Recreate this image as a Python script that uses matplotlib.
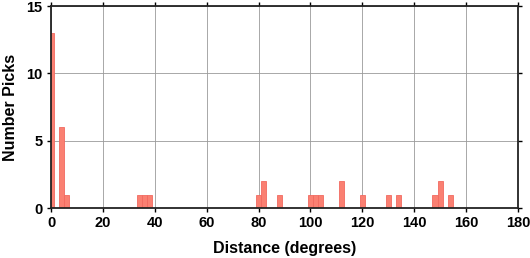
import matplotlib
matplotlib.use("Agg")
import matplotlib.pyplot as plt

# histogram bins (2 degree wide, centred on even degrees)
centers = [0, 4, 6, 34, 36, 38, 80, 82, 88, 100, 102, 104, 112, 120, 130,
           134, 148, 150, 154]
counts = [13, 6, 1, 1, 1, 1, 1, 2, 1, 1, 1, 1, 2, 1, 1, 1, 1, 2, 1]
bin_width = 2

xticks = list(range(0, 181, 20))
yticks = [0, 5, 10, 15]

plt.rcParams["font.family"] = ["Liberation Sans", "DejaVu Sans"]
plt.rcParams["font.weight"] = "bold"

fig = plt.figure(figsize=(5.30, 2.58), dpi=100)
ax = fig.add_axes([51 / 530, 50 / 258, 467 / 530, 202 / 258])

ax.bar(centers, counts, width=bin_width, align="center",
       color="#fa8072", edgecolor="#f26a60", linewidth=0.6, zorder=2)

ax.set_xlim(0, 180)
ax.set_ylim(0, 15)
ax.set_xticks(xticks)
ax.set_yticks(yticks)
ax.grid(True, color="#9a9a9a", linewidth=0.6, zorder=0)
ax.set_axisbelow(True)

for s in ax.spines.values():
    s.set_linewidth(1.3)
    s.set_color("#222222")

ax.tick_params(direction="out", length=3, width=1, top=True, right=True,
               labelsize=10.5, pad=3)
for lbl in ax.get_xticklabels() + ax.get_yticklabels():
    lbl.set_fontweight("bold")

ax.set_xlabel("Distance (degrees)", fontsize=11.5, fontweight="bold", labelpad=8)
ax.set_ylabel("Number Picks", fontsize=11.5, fontweight="bold", labelpad=6)

fig.savefig("out.png", dpi=100)
